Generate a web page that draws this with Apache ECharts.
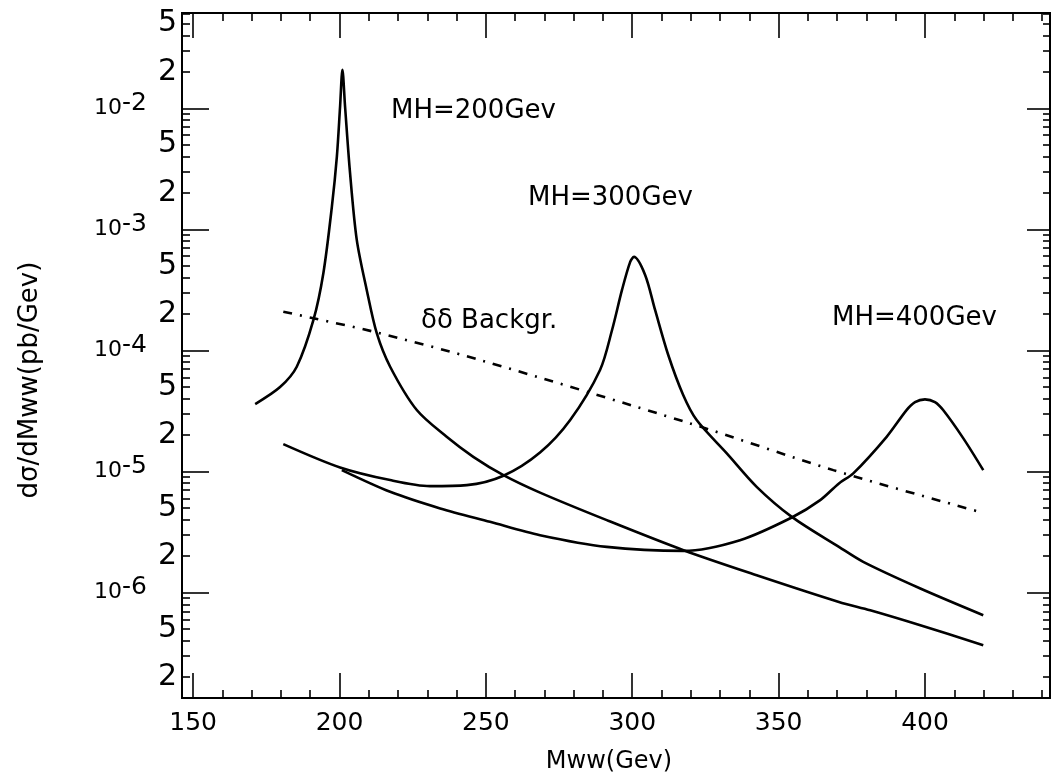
<!DOCTYPE html>
<html><head><meta charset="utf-8">
<script src="https://cdn.jsdelivr.net/npm/echarts@6/dist/echarts.min.js"></script>
<style>html,body{margin:0;padding:0;background:#fff}#c{width:1051px;height:776px}</style>
</head><body><div id="c"></div>
<script>
// ---- data ----
const mh200X = [171.2,179.7,185.4,191.1,194.5,197.4,199.1,200.2,201.0,201.9,203.6,205.9,209.3,212.7,217.3,226.4,236.6,245.7,256.0,268.5,291.3,317.5,342.5,370.6,381.3,398.4,419.9];
const mh200Y = [3.605e-5,4.98e-5,7.33e-5,1.784e-4,4.36e-4,1.541e-3,3.99e-3,1.034e-2,2.079e-2,1.034e-2,2.927e-3,8.18e-4,3.158e-4,1.393e-4,7.33e-5,3.216e-5,1.934e-5,1.322e-5,9.33e-6,6.69e-6,3.963e-6,2.239e-6,1.391e-6,8.37e-7,7.14e-7,5.37e-7,3.67e-7];
const mh300X = [180.8,200.2,217.3,230.9,243.5,256.0,268.5,278.8,289.0,293.1,296.5,299.3,300.6,304.4,307.8,312.3,317.4,322.0,332.3,342.5,354.5,370.6,378.9,398.4,419.9];
const mh300Y = [1.684e-5,1.080e-5,8.49e-6,7.57e-6,7.71e-6,9.21e-6,1.432e-5,2.658e-5,6.89e-5,1.474e-4,3.158e-4,5.38e-4,5.92e-4,4.20e-4,2.158e-4,9.16e-5,4.28e-5,2.658e-5,1.411e-5,7.47e-6,4.22e-6,2.384e-6,1.792e-6,1.080e-6,6.50e-7];
const mh400X = [200.8,217.3,234.4,251.4,268.5,291.3,317.5,336.8,354.5,364.2,370.6,375.5,386.9,393.7,396.6,400.0,403.4,406.2,413.1,419.9];
const mh400Y = [1.026e-5,6.79e-6,4.95e-6,3.837e-6,2.979e-6,2.384e-6,2.209e-6,2.708e-6,4.17e-6,5.80e-6,7.97e-6,9.64e-6,1.934e-5,3.216e-5,3.743e-5,3.943e-5,3.743e-5,3.216e-5,1.877e-5,1.026e-5];
const bgX = [180.8,191.1,211.6,248.0,319.7,368.7,419.9];
const bgY = [2.089e-4,1.843e-4,1.428e-4,8.33e-5,2.497e-5,1.026e-5,4.55e-6];

const xMajorTicks = [150,200,250,300,350,400];
const xMinorTicks = [160,170,180,190,210,220,230,240,260,270,280,290,310,320,330,340,360,370,380,390,410,420,430,440];
const yLabelValues = [2e-7,5e-7,1e-6,2e-6,5e-6,1e-5,2e-5,5e-5,1e-4,2e-4,5e-4,1e-3,2e-3,5e-3,1e-2,2e-2,5e-2];
const yDecades = [1e-6,1e-5,1e-4,1e-3,1e-2];
const yMinorMantissas = [2,3,4,5,6,7,8,9];
const yMinorExponents = [-7,-6,-5,-4,-3,-2];

const X_MIN = 146.2, X_MAX = 442.7;
const Y_MIN = 1.346e-7, Y_MAX = 6.12e-2;
const FONT = 'DejaVu Sans';

const yMinor = [];
yMinorExponents.forEach(e => yMinorMantissas.forEach(m => {
  const v = m * Math.pow(10, e);
  if (v > Y_MIN && v < Y_MAX) yMinor.push(v);
}));

function xAx(pos, ticks, len, labels) {
  return {
    type: 'value', min: X_MIN, max: X_MAX, position: pos,
    axisLine: {show: true, onZero: false, lineStyle: {color: '#000', width: 2}},
    axisTick: {show: true, inside: true, length: len, customValues: ticks, lineStyle: {color: '#000', width: 1.6}},
    axisLabel: labels ? {show: true, customValues: labels, margin: 13, color: '#000', fontFamily: FONT, fontSize: 25} : {show: false},
    splitLine: {show: false}
  };
}
function yAx(pos, ticks, len, labels) {
  return {
    type: 'log', min: Y_MIN, max: Y_MAX, position: pos, logBase: 10,
    axisLine: {show: true, onZero: false, lineStyle: {color: '#000', width: 2}},
    axisTick: {show: true, inside: true, length: len, customValues: ticks, lineStyle: {color: '#000', width: 1.6}},
    axisLabel: labels ? {
      show: true, customValues: labels, margin: 5, color: '#000', fontFamily: FONT,
      formatter: function (v) {
        const e = Math.floor(Math.log10(v) + 1e-9);
        const m = Math.round(v / Math.pow(10, e));
        if (m === 1) return '{b|10}{s|' + e + '}{g| }';
        return '{d|' + m + '}';
      },
      rich: {
        d: {fontSize: 30, fontFamily: FONT, color: '#000'},
        b: {fontSize: 22, fontFamily: FONT, color: '#000', padding: [0, 0, 0, 0]},
        s: {fontSize: 25, fontFamily: FONT, color: '#000', padding: [0, 0, 10, 0]},
        g: {width: 30, fontSize: 10}
      }
    } : {show: false},
    splitLine: {show: false}
  };
}
function pairs(xs, ys) { return xs.map((x, i) => [x, ys[i]]); }
function curve(name, xs, ys, dash) {
  return {
    name: name, type: 'line', data: pairs(xs, ys), showSymbol: false, smooth: 0.3,
    lineStyle: {color: '#000', width: 2.6, type: dash || 'solid'}, z: 3, silent: true
  };
}

const chart = echarts.init(document.getElementById('c'), null, {renderer: 'canvas'});
chart.setOption({
  backgroundColor: '#fff',
  animation: false,
  grid: {left: 182, right: 1, top: 13, bottom: 78, containLabel: false},
  xAxis: [
    xAx('bottom', xMajorTicks, 25, xMajorTicks),
    xAx('bottom', xMinorTicks, 8),
    xAx('top', xMajorTicks, 25),
    xAx('top', xMinorTicks, 8)
  ],
  yAxis: [
    yAx('left', yDecades, 27, yLabelValues),
    yAx('left', yMinor, 8),
    yAx('right', yDecades, 23),
    yAx('right', yMinor, 7)
  ],
  series: [
    curve('MH=200Gev', mh200X, mh200Y),
    curve('MH=300Gev', mh300X, mh300Y),
    curve('MH=400Gev', mh400X, mh400Y),
    curve('Backgr.', bgX, bgY, [9, 8, 2, 8])
  ],
  graphic: [
    {type: 'text', x: 30, y: 380, rotation: Math.PI / 2, style: {text: 'dσ/dMww(pb/Gev)', font: '26px "DejaVu Sans"', textAlign: 'center', textVerticalAlign: 'middle', fill: '#000'}},
    {type: 'text', x: 609, y: 762, style: {text: 'Mww(Gev)', font: '24px "DejaVu Sans"', textAlign: 'center', textVerticalAlign: 'middle', fill: '#000'}},
    {type: 'text', x: 391, y: 111, style: {text: 'MH=200Gev', font: '26px "DejaVu Sans"', textAlign: 'left', textVerticalAlign: 'middle', fill: '#000'}},
    {type: 'text', x: 528, y: 198, style: {text: 'MH=300Gev', font: '26px "DejaVu Sans"', textAlign: 'left', textVerticalAlign: 'middle', fill: '#000'}},
    {type: 'text', x: 421, y: 321, style: {text: 'δδ Backgr.', font: '26px "DejaVu Sans"', textAlign: 'left', textVerticalAlign: 'middle', fill: '#000'}},
    {type: 'text', x: 832, y: 318, style: {text: 'MH=400Gev', font: '26px "DejaVu Sans"', textAlign: 'left', textVerticalAlign: 'middle', fill: '#000'}}
  ]
});
</script>
</body></html>
